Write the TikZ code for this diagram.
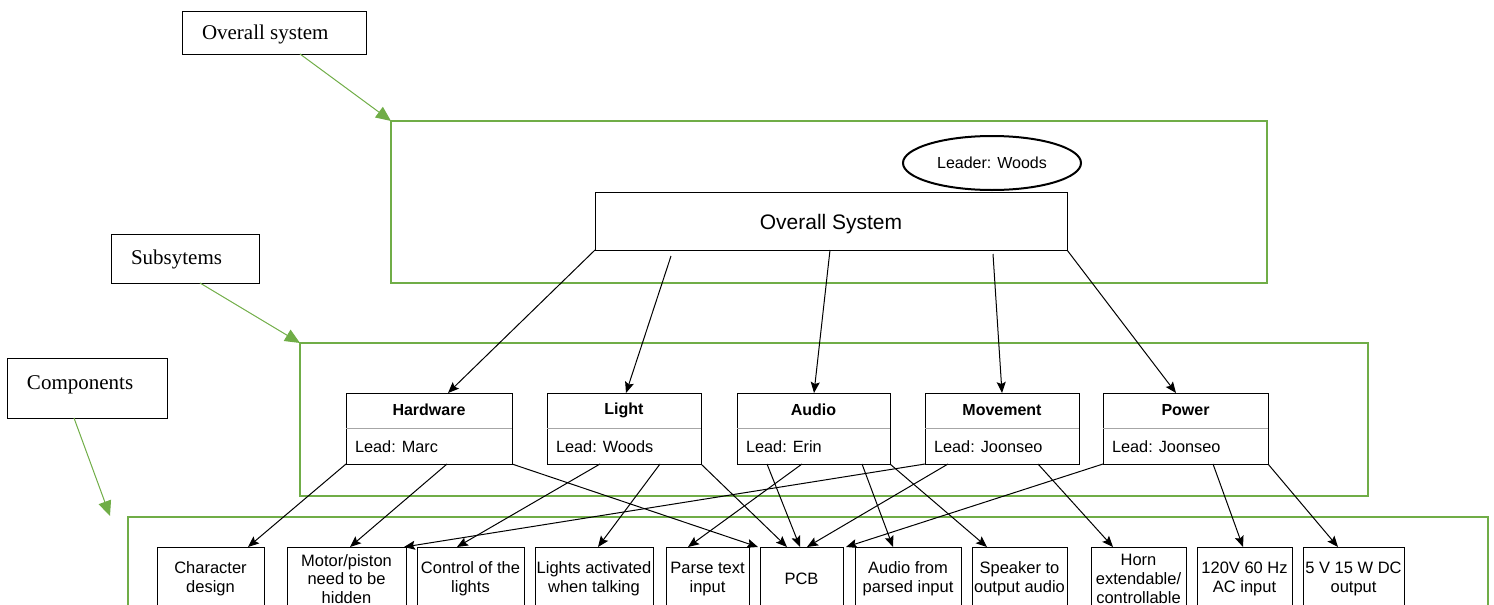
\documentclass[tikz,border=0pt]{standalone}
\usepackage{fontspec}
\setmainfont{Liberation Sans}
\newfontfamily\timesfont{Liberation Serif}
\usetikzlibrary{arrows.meta,calc,shapes.geometric}
\definecolor{grn}{RGB}{112,173,71}
\newcommand\mksub[5]{%
  \node[ssbox, minimum width=#3] (#1) at (#2,393) {};
  \node[font=\bfseries\fontsize{16}{19}\selectfont] (#1t) at ($(#1.north)+(0,17)$) {#4};
  \draw[divider] ($(#1.north west)+(0,35)$) -- ($(#1.north east)+(0,35)$);
  \node[anchor=west, font=\fontsize{16.3}{19}\selectfont] (#1l) at ($(#1.south west)+(9,-17)$) {#5};
}
\newcommand\mkcomp[4]{%
  \node[comp, minimum width=#3] (#1) at (#2,547) {#4};
}
\begin{document}
\begin{tikzpicture}[x=1pt,y=-1pt,
  every node/.style={inner sep=0pt, outer sep=0pt},
  lblbox/.style={draw, line width=1pt, anchor=north west},
  lbltext/.style={anchor=west, font=\timesfont\fontsize{21}{25}\selectfont},
  grnbox/.style={draw=grn, line width=2.6pt, anchor=north west},
  grnarrow/.style={draw=grn, line width=1pt, -{Triangle[length=15pt,width=13pt]}},
  ssbox/.style={draw, line width=1pt, anchor=north west, minimum height=71},
  divider/.style={draw=black!35, line width=1pt},
  comp/.style={draw, line width=1pt, anchor=north west, minimum height=64, align=center, font=\fontsize{16.5}{18.7}\selectfont},
  conn/.style={draw, line width=1pt, -{Stealth[length=11pt,width=9pt,inset=2pt]}}
]
\useasboundingbox (0,0) rectangle (1494,605);
\clip (0,0) rectangle (1494,605);

% level label boxes
\node[lblbox, minimum width=184, minimum height=43] (osl) at (182,11) {};
\node[lbltext] (oslt) at ($(osl.west)+(20,2)$) {Overall system};
\node[lblbox, minimum width=148, minimum height=49] (ssl) at (111,234) {};
\node[lbltext] (sslt) at ($(ssl.west)+(20,1)$) {Subsytems};
\node[lblbox, minimum width=160, minimum height=60] (cpl) at (7,358) {};
\node[lbltext] (cplt) at ($(cpl.west)+(20,-3)$) {Components};

% green group boxes
\node[grnbox, minimum width=876, minimum height=162] (g1) at (391,121) {};
\node[grnbox, minimum width=1068, minimum height=153] (g2) at (300,343) {};
\node[grnbox, minimum width=1360, minimum height=140] (g3) at (128,517) {};

\draw[grnarrow] ($(osl.south west)+(118,0)$) -- (g1.north west);
\draw[grnarrow] ($(ssl.south west)+(89,0)$) -- (g2.north west);
\draw[grnarrow] ($(cpl.south west)+(67,0)$) -- ($(g3.north west)+(-18,-1)$);

% overall system
\node[draw, line width=1pt, anchor=north west, minimum width=472, minimum height=58] (os) at (595,192) {};
\node[font=\fontsize{21}{25}\selectfont] (ost) at ($(os.center)+(0,3)$) {Overall System};
\node[draw, ellipse, line width=2pt, minimum width=178, minimum height=54,
      font=\fontsize{16}{18}\selectfont] (ld) at (992,163) {Leader: Woods};

% subsystems
\mksub{hw}{346}{166}{Hardware}{Lead: Marc}
\mksub{lt}{547}{154}{Light}{Lead: Woods}
\mksub{au}{737}{153}{Audio}{Lead: Erin}
\mksub{mv}{925}{154}{Movement}{Lead: Joonseo}
\mksub{pw}{1103}{165}{Power}{Lead: Joonseo}

% components
\mkcomp{cd}{157}{107}{Character\\design}
\mkcomp{mp}{287}{119}{Motor/piston\\need to be\\hidden}
\mkcomp{cl}{417}{107}{Control of the\\lights}
\mkcomp{la}{535}{118}{Lights activated\\when talking}
\mkcomp{pt}{666}{83}{Parse text\\input}
\mkcomp{pcb}{760}{83}{PCB}
\mkcomp{af}{855}{106}{Audio from\\parsed input}
\mkcomp{sp}{972}{95}{Speaker to\\output audio}
\mkcomp{hn}{1091}{95}{Horn\\extendable/\\controllable}
\mkcomp{ac}{1197}{95}{120V 60 Hz\\AC input}
\mkcomp{dc}{1303}{101}{5 V 15 W DC\\output}

% overall -> subsystems
\draw[conn] (os.south west) -- ($(hw.north west)+(102,0)$);
\draw[conn] ($(os.south west)+(76,6)$) -- ($(lt.north west)+(79,0)$);
\draw[conn] ($(os.south west)+(235,0)$) -- ($(au.north west)+(77,0)$);
\draw[conn] ($(os.south west)+(398,4)$) -- ($(mv.north west)+(77,0)$);
\draw[conn] (os.south east) -- ($(pw.north west)+(73,0)$);

% subsystems -> components
\draw[conn] (hw.south west) -- ($(cd.north west)+(91,0)$);
\draw[conn] ($(hw.south west)+(101,0)$) -- ($(mp.north west)+(63,0)$);
\draw[conn] (hw.south east) -- ($(pcb.north west)+(-2,0)$);

\draw[conn] ($(lt.south west)+(53,0)$) -- ($(cl.north west)+(40,0)$);
\draw[conn] ($(lt.south west)+(113,0)$) -- ($(la.north west)+(63,0)$);
\draw[conn] (lt.south east) -- ($(pcb.north west)+(27,0)$);

\draw[conn] ($(au.south west)+(30,0)$) -- ($(pcb.north west)+(40,0)$);
\draw[conn] ($(au.south west)+(65,0)$) -- ($(pt.north west)+(22,0)$);
\draw[conn] ($(au.south west)+(125,0)$) -- ($(af.north west)+(38,0)$);
\draw[conn] (au.south east) -- ($(sp.north west)+(15,0)$);

\draw[conn] (mv.south west) -- ($(mp.north east)+(-2,0)$);
\draw[conn] ($(mv.south west)+(23,0)$) -- ($(pcb.north west)+(47,0)$);
\draw[conn] ($(mv.south west)+(113,0)$) -- ($(hn.north west)+(22,0)$);

\draw[conn] (pw.south west) -- ($(pcb.north east)+(3,0)$);
\draw[conn] ($(pw.south west)+(110,0)$) -- ($(ac.north west)+(46,0)$);
\draw[conn] (pw.south east) -- ($(dc.north west)+(35,0)$);
\end{tikzpicture}
\end{document}
